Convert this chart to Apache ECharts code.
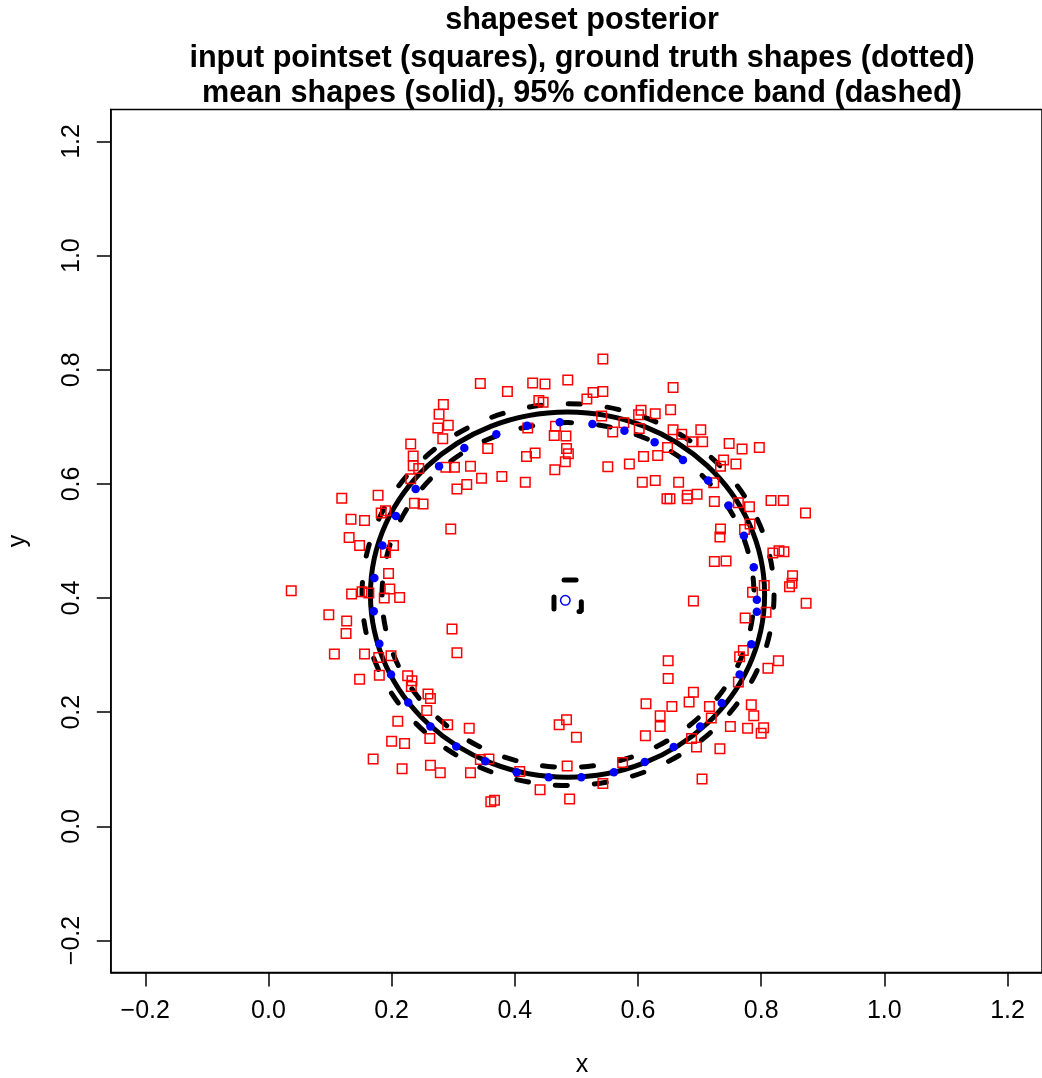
<!DOCTYPE html>
<html><head><meta charset="utf-8">
<script src="https://cdn.jsdelivr.net/npm/echarts@6/dist/echarts.min.js"></script>
<style>html,body{margin:0;padding:0;background:#fff}#c{width:1042px;height:1078px}</style>
</head><body><div id="c"></div>
<script>
const titleLines = [
  'shapeset posterior',
  'input pointset (squares), ground truth shapes (dotted)',
  'mean shapes (solid), 95% confidence band (dashed)'
];
const xAxisTitle = 'x';
const yAxisTitle = 'y';
const tickValues = [-0.2, 0.0, 0.2, 0.4, 0.6, 0.8, 1.0, 1.2];
const tickLabels = ['\u22120.2', '0.0', '0.2', '0.4', '0.6', '0.8', '1.0', '1.2'];
const axisRange = [-0.256, 1.256];

// input pointset (red squares)
const inputPoints = [
  [0.284,0.739],[0.277,0.722],[0.275,0.698],[0.292,0.703],[0.283,0.679],[0.231,0.670],[0.235,0.649],
  [0.235,0.632],[0.244,0.627],[0.231,0.609],[0.288,0.629],[0.302,0.629],[0.306,0.591],[0.119,0.575],
  [0.178,0.580],[0.237,0.566],[0.251,0.565],
  [0.543,0.819],[0.344,0.776],[0.388,0.762],[0.429,0.777],[0.449,0.775],[0.486,0.782],[0.527,0.760],
  [0.543,0.762],[0.517,0.749],[0.439,0.746],[0.446,0.743],[0.541,0.719],[0.605,0.729],[0.601,0.721],
  [0.559,0.691],[0.577,0.707],[0.602,0.697],[0.421,0.698],[0.466,0.701],[0.464,0.685],[0.483,0.684],
  [0.484,0.662],[0.487,0.653],[0.482,0.639],[0.356,0.662],[0.419,0.648],[0.433,0.654],[0.465,0.625],
  [0.328,0.631],[0.346,0.610],[0.379,0.613],[0.322,0.599],[0.417,0.603],[0.551,0.630],[0.586,0.635],
  [0.609,0.648],[0.607,0.603],
  [0.657,0.769],[0.628,0.723],[0.653,0.730],[0.657,0.695],[0.671,0.687],[0.702,0.695],[0.688,0.674],
  [0.705,0.674],[0.648,0.664],[0.632,0.650],[0.748,0.671],[0.769,0.661],[0.797,0.664],[0.739,0.642],
  [0.734,0.631],[0.759,0.635],[0.628,0.606],[0.666,0.603],[0.723,0.602],[0.680,0.580],[0.696,0.582],
  [0.680,0.574],[0.647,0.574],[0.652,0.574],[0.724,0.569],[0.816,0.571],[0.836,0.571],[0.763,0.567],
  [0.781,0.560],
  [0.183,0.549],[0.190,0.553],[0.134,0.538],[0.156,0.536],[0.131,0.506],[0.148,0.492],[0.203,0.492],
  [0.190,0.480],[0.296,0.521],[0.195,0.443],[0.197,0.416],[0.037,0.413],[0.135,0.407],[0.152,0.411],
  [0.163,0.409],[0.188,0.400],[0.213,0.401],[0.098,0.371],[0.127,0.360],[0.126,0.338],[0.298,0.346],
  [0.306,0.304],[0.107,0.302],[0.156,0.302],[0.199,0.299],[0.179,0.296],
  [0.872,0.549],[0.734,0.521],[0.733,0.507],[0.773,0.520],[0.782,0.530],[0.724,0.464],[0.743,0.465],
  [0.819,0.479],[0.829,0.483],[0.837,0.481],[0.851,0.439],[0.850,0.426],[0.846,0.420],[0.786,0.410],
  [0.805,0.422],[0.690,0.395],[0.873,0.391],[0.808,0.375],[0.774,0.365],[0.771,0.308],[0.765,0.297],
  [0.828,0.290],[0.649,0.290],
  [0.148,0.258],[0.180,0.265],[0.226,0.264],[0.233,0.255],[0.232,0.245],[0.259,0.232],[0.263,0.224],
  [0.257,0.203],[0.210,0.184],[0.291,0.178],[0.262,0.154],[0.200,0.149],[0.221,0.145],[0.170,0.118],
  [0.217,0.101],[0.263,0.107],[0.279,0.094],
  [0.326,0.172],[0.472,0.178],[0.484,0.187],[0.500,0.156],[0.613,0.215],[0.612,0.159],[0.344,0.117],
  [0.358,0.118],[0.328,0.094],[0.408,0.096],[0.485,0.106],[0.441,0.064],[0.543,0.075],[0.575,0.112],
  [0.489,0.048],[0.361,0.043],[0.367,0.046],
  [0.649,0.259],[0.811,0.277],[0.763,0.253],[0.690,0.235],[0.683,0.218],[0.655,0.210],[0.716,0.210],
  [0.719,0.190],[0.636,0.194],[0.636,0.175],[0.784,0.213],[0.788,0.194],[0.750,0.175],[0.778,0.172],
  [0.804,0.173],[0.800,0.163],[0.687,0.154],[0.695,0.139],[0.733,0.136],[0.704,0.083]
];

// ground truth boundary points (blue dots) and centre (blue open circle)
const truthPoints = [
  [0.318,0.663],[0.277,0.631],[0.239,0.591],[0.207,0.544],[0.185,0.492],[0.172,0.435],[0.171,0.377],
  [0.180,0.320],[0.199,0.266],[0.227,0.217],[0.263,0.175],[0.305,0.140],[0.352,0.114],[0.403,0.095],
  [0.455,0.086],[0.508,0.086],[0.561,0.095],[0.611,0.113],[0.658,0.139],[0.701,0.175],[0.736,0.216],
  [0.765,0.266],[0.784,0.319],[0.793,0.376],[0.793,0.397],[0.788,0.454],[0.772,0.509],[0.747,0.562],
  [0.714,0.606],[0.673,0.642],[0.627,0.673],[0.578,0.693],[0.526,0.705],[0.473,0.708],[0.420,0.702],
  [0.370,0.687]
];
const truthCenter = [[0.482, 0.396]];

// mean shape and 95% band: [centre x, centre y, radius]
const meanCircle = [0.4856, 0.4061, 0.320];
const bandOuterCircle = [0.4864, 0.4060, 0.3345];
const bandInnerCircle = [0.4864, 0.4054, 0.302];
// 95% band of the centre
const centerBand = [[0.4636,0.3765],[0.508,0.3765],[0.508,0.4315],[0.4636,0.4315],[0.4636,0.3765]];

const FONT = '"Liberation Sans", Arial, Helvetica, sans-serif';
const DASH = [12, 27];

function circleSeries(circ, dashed) {
  return {
    type: 'custom',
    data: [circ],
    clip: false,
    silent: true,
    renderItem: function (params, api) {
      const c = api.coord([api.value(0), api.value(1)]);
      const s = api.size([api.value(2), api.value(2)]);
      return {
        type: 'ellipse',
        shape: { cx: c[0], cy: c[1], rx: s[0], ry: s[1] },
        style: { fill: 'none', stroke: '#000', lineWidth: 5, lineDash: dashed ? DASH : null, lineCap: 'round' }
      };
    }
  };
}

function labelFor(v) {
  for (let i = 0; i < tickValues.length; i++) {
    if (Math.abs(tickValues[i] - v) < 1e-6) return tickLabels[i];
  }
  return '';
}

const axisCommon = {
  type: 'value',
  min: axisRange[0],
  max: axisRange[1],
  splitLine: { show: false },
  axisLine: { show: true, onZero: false, lineStyle: { color: '#000', width: 1.5 } },
  axisTick: { show: true, customValues: tickValues, length: 14, inside: false, lineStyle: { color: '#000', width: 1.5 } },
};

const chart = echarts.init(document.getElementById('c'), null, { renderer: 'canvas' });
chart.setOption({
  animation: false,
  backgroundColor: '#fff',
  grid: { left: 110.8, top: 109.5, width: 942.4, height: 863, show: true, borderColor: '#000', borderWidth: 1.5, backgroundColor: 'transparent' },
  xAxis: Object.assign({}, axisCommon, {
    position: 'bottom',
    axisLabel: { customValues: tickValues, formatter: labelFor, fontSize: 25, fontFamily: FONT, color: '#000', margin: 26 }
  }),
  yAxis: Object.assign({}, axisCommon, {
    position: 'left',
    axisLabel: { customValues: tickValues, formatter: labelFor, fontSize: 25, fontFamily: FONT, color: '#000', margin: 26, rotate: 90 }
  }),
  graphic: [
    { type: 'text', x: 582, y: 21, style: { text: titleLines[0], font: 'bold 30.6px ' + FONT, fill: '#000', align: 'center', verticalAlign: 'middle', textAlign: 'center', textVerticalAlign: 'middle' } },
    { type: 'text', x: 582, y: 59, style: { text: titleLines[1], font: 'bold 30.6px ' + FONT, fill: '#000', align: 'center', verticalAlign: 'middle', textAlign: 'center', textVerticalAlign: 'middle' } },
    { type: 'text', x: 582, y: 94, style: { text: titleLines[2], font: 'bold 30.6px ' + FONT, fill: '#000', align: 'center', verticalAlign: 'middle', textAlign: 'center', textVerticalAlign: 'middle' } },
    { type: 'text', x: 582, y: 1065, style: { text: xAxisTitle, font: '25px ' + FONT, fill: '#000', align: 'center', verticalAlign: 'middle', textAlign: 'center', textVerticalAlign: 'middle' } },
    { type: 'text', x: 18, y: 541, rotation: Math.PI / 2, style: { text: yAxisTitle, font: '25px ' + FONT, fill: '#000', align: 'center', verticalAlign: 'middle', textAlign: 'center', textVerticalAlign: 'middle' } }
  ],
  series: [
    {
      type: 'scatter', data: inputPoints, symbol: 'rect', symbolSize: 9.5, silent: true,
      itemStyle: { color: 'rgba(0,0,0,0)', borderColor: '#ff0000', borderWidth: 1.5, opacity: 1 }
    },
    circleSeries(meanCircle, false),
    circleSeries(bandOuterCircle, true),
    circleSeries(bandInnerCircle, true),
    {
      type: 'line', data: centerBand, showSymbol: false, symbol: 'none', silent: true,
      lineStyle: { color: '#000', width: 5, type: DASH, dashOffset: 14, cap: 'round' }
    },
    {
      type: 'scatter', data: truthPoints, symbol: 'circle', symbolSize: 8.5, silent: true,
      itemStyle: { color: '#0000ff', opacity: 1 }
    },
    {
      type: 'scatter', data: truthCenter, symbol: 'circle', symbolSize: 9.5, silent: true,
      itemStyle: { color: 'rgba(0,0,0,0)', borderColor: '#0000ff', borderWidth: 1.5, opacity: 1 }
    }
  ]
});
</script>
</body></html>
